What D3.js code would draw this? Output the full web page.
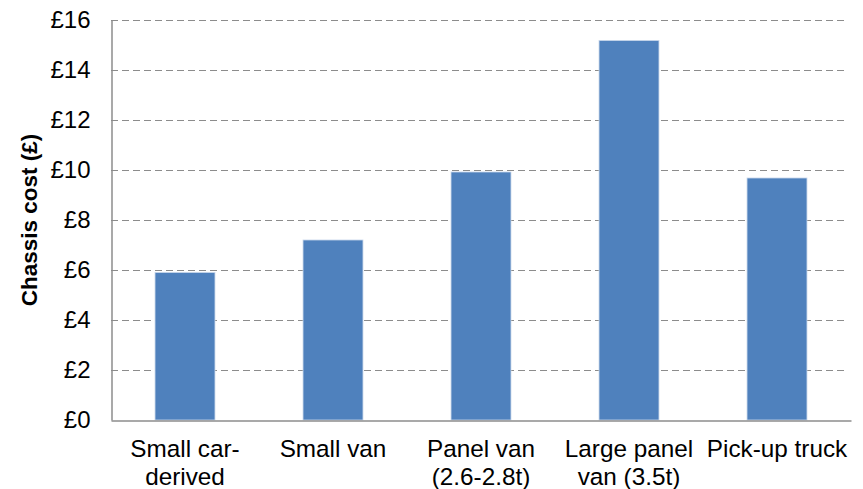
<!DOCTYPE html>
<html><head><meta charset="utf-8">
<script src="https://cdn.jsdelivr.net/npm/d3@7"></script>
<style>body{margin:0;background:#fff}svg{display:block}</style>
</head><body>
<svg id="c" width="863" height="489"></svg>
<script>
const categories = [["Small car-","derived"],["Small van"],["Panel van","(2.6-2.8t)"],["Large panel","van (3.5t)"],["Pick-up truck"]];
const values = [5.9, 7.2, 9.92, 15.18, 9.68];
const yTicks = [0,2,4,6,8,10,12,14,16];
const yTitle = "Chassis cost (£)";

const svg = d3.select("#c");
const m = {left:111, right:12, top:20, bottom:69};
const W = 863, H = 489;
const x = d3.scaleBand().domain(d3.range(values.length)).range([m.left, W - m.right]).paddingInner(0.595).paddingOuter(0.2975);
const y = d3.scaleLinear().domain([0,16]).range([H - m.bottom, m.top]);
const font = "'Liberation Sans', Arial, sans-serif";

// gridlines
svg.append("g").selectAll("line").data(yTicks.filter(d=>d>0)).join("line")
  .attr("x1", m.left).attr("x2", W - m.right - 3)
  .attr("y1", d=>y(d)+0.5).attr("y2", d=>y(d)+0.5)
  .attr("stroke","#8c8c8c").attr("stroke-width",1.2).attr("stroke-dasharray","7,4");

// bars
svg.append("g").selectAll("rect").data(values).join("rect")
  .attr("x", (d,i)=>x(i)).attr("width", x.bandwidth())
  .attr("y", d=>y(d)).attr("height", d=>y(0)-y(d))
  .attr("fill","#4f81bd").attr("stroke","#c7d6ea").attr("stroke-width",0.8);

// y axis
const ya = d3.axisLeft(y).tickValues(yTicks).tickSize(0).tickPadding(21).tickFormat(d=>"£"+d);
const gy = svg.append("g").attr("transform",`translate(${m.left+0.5},0)`).call(ya);
gy.select(".domain").attr("stroke","#8c8c8c").attr("stroke-width",1.5);
gy.selectAll("text").attr("font-family",font).attr("font-size","24px").attr("fill","#000");

// x axis
const xa = d3.axisBottom(x).tickSize(0).tickFormat("");
const gx = svg.append("g").attr("transform",`translate(0,${y(0)+0.5})`).call(xa);
gx.select(".domain").attr("stroke","#8c8c8c").attr("stroke-width",1.5);

// category labels
const lab = svg.append("g").selectAll("text").data(categories).join("text")
  .attr("font-family",font).attr("font-size","24.3px").attr("fill","#000")
  .attr("text-anchor","middle")
  .attr("transform",(d,i)=>`translate(${x(i)+x.bandwidth()/2},457)`);
lab.selectAll("tspan").data(d=>d).join("tspan")
  .attr("x",0).attr("y",(d,j)=>j*28).text(d=>d);

// y title
svg.append("text").attr("transform",`translate(37,${(y(0)+y(16))/2}) rotate(-90)`)
  .attr("text-anchor","middle").attr("font-family",font).attr("font-weight","bold")
  .attr("font-size","22.5px").attr("fill","#000").text(yTitle);
</script>
</body></html>
